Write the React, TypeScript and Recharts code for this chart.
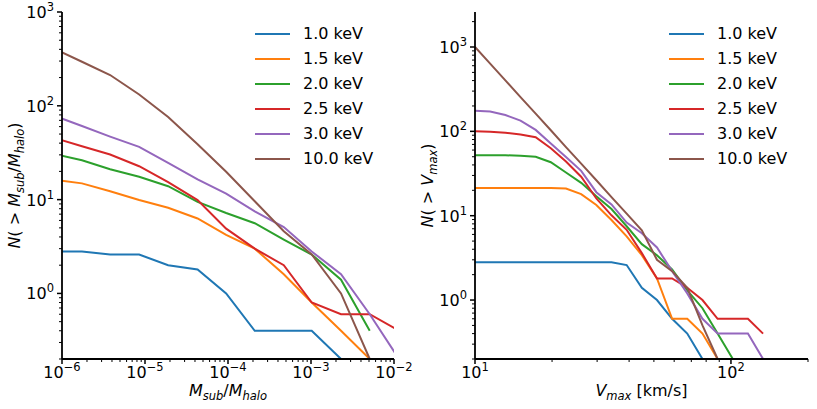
import { LineChart, Line, XAxis, YAxis, Legend } from "recharts";

const FONT = "DejaVu Sans, sans-serif";

// the six warm dark matter runs
const runs = ["1.0 keV", "1.5 keV", "2.0 keV", "2.5 keV", "3.0 keV", "10.0 keV"];
const colors = ["#1f77b4", "#ff7f0e", "#2ca02c", "#d62728", "#9467bd", "#8c564b"];
const keys = ["k10", "k15", "k20", "k25", "k30", "k100"];

// left panel: N(>Msub/Mhalo)
const massRatio = [7.8e-7, 1.74e-6, 3.8e-6, 8.5e-6, 1.9e-5, 4.3e-5, 9.5e-5, 2.1e-4, 4.7e-4, 1.02e-3, 2.3e-3, 5.1e-3, 1.15e-2];
const massN10 = [2.8, 2.8, 2.6, 2.6, 2.0, 1.8, 1.0, 0.4, 0.4, 0.4, 0.2, null, null];
const massN15 = [16.3, 14.9, 12.3, 9.9, 8.2, 6.3, 4.2, 3.0, 1.6, 0.8, 0.4, 0.2, null];
const massN20 = [30.8, 26.3, 21.1, 17.5, 13.9, 9.45, 7.2, 5.6, 3.75, 2.6, 1.4, 0.4, null];
const massN25 = [46, 37, 30.3, 22.7, 15.4, 9.9, 4.9, 3.0, 2.0, 0.8, 0.6, 0.6, 0.4];
const massN30 = [79, 61, 47, 36.5, 24.6, 16.4, 11.6, 7.5, 5.1, 2.8, 1.6, 0.6, 0.2];
const massN100 = [413, 295, 213, 132, 76, 39, 19.8, 9.6, 4.6, 2.6, 1.0, 0.2, null];

// right panel: N(>Vmax)
const vmax = [10.0, 11.46, 13.14, 15.06, 17.26, 19.78, 22.67, 25.99, 29.79, 34.14, 39.13, 44.85, 51.4, 58.9, 67.5, 77.4, 88.7, 101.7, 116.5, 133.5];
const velN10 = [2.8, 2.8, 2.8, 2.8, 2.8, 2.8, 2.8, 2.8, 2.8, 2.8, 2.6, 1.4, 1.0, 0.6, 0.4, 0.2, null, null, null, null];
const velN15 = [21.3, 21.3, 21.3, 21.3, 21.3, 21.3, 21, 18, 13.4, 8.9, 5.7, 3.4, 1.8, 0.6, 0.6, 0.4, 0.2, null, null, null];
const velN20 = [52, 52, 52, 51.5, 50, 43, 32.5, 24.5, 17, 12, 7.5, 4.6, 3.4, 2.3, 1.3, 0.8, 0.4, 0.2, null, null];
const velN25 = [100, 99, 96, 92, 85, 63, 44, 29, 16, 10.1, 6.8, 3.6, 1.8, 1.8, 1.4, 1.0, 0.6, 0.6, 0.6, 0.4];
const velN30 = [176, 172, 156, 134, 104, 72, 49.5, 34, 19, 13.6, 8.3, 6.2, 4.2, 2.2, 1.2, 0.6, 0.4, 0.4, 0.4, 0.2];
const velN100 = [1000, 634, 402, 255, 162, 103, 65, 41.4, 26.3, 16.6, 10.6, 6.7, 3.0, 2.2, 1.4, 0.5, 0.2, null, null, null];

// axis ranges and decade tick labels
const massDomain = [1e-6, 1e-2];
const massDecades = [1e-6, 1e-5, 1e-4, 1e-3, 1e-2];
const massNDomain = [0.2, 1000];
const massNDecades = [0.1, 1, 10, 100, 1000];
const velDomain = [10, 200];
const velDecades = [10, 100];
const velNDomain = [0.2, 2600];
const velNDecades = [0.1, 1, 10, 100, 1000];

const buildRows = (xs: number[], series: (number | null)[][]) =>
  xs.map((x, i) => {
    const row: any = { x };
    keys.forEach((k, j) => (row[k] = series[j][i]));
    return row;
  });

const massData = buildRows(massRatio, [massN10, massN15, massN20, massN25, massN30, massN100]);
const velData = buildRows(vmax, [velN10, velN15, velN20, velN25, velN30, velN100]);

// decades plus the 2..9 minor ticks in between, kept inside the domain
const withMinor = (decades: number[], domain: number[]) => {
  const out: number[] = [];
  decades.forEach((d) => {
    for (let m = 1; m < 10; m++) out.push(d * m);
  });
  return out.filter((v) => v >= domain[0] * 0.9999 && v <= domain[1] * 1.0001);
};

const isDecade = (v: number) => Math.abs(Math.log10(v) - Math.round(Math.log10(v))) < 1e-6;
const expOf = (v: number) => {
  const e = Math.round(Math.log10(v));
  return e < 0 ? "\u2212" + Math.abs(e) : String(e);
};

const MAJOR = 5;
const MINOR = 3;

const XTick = (props: any) => {
  const { x, y, payload } = props;
  const major = isDecade(payload.value);
  return (
    <g>
      <line x1={x} y1={y} x2={x} y2={y + (major ? MAJOR : MINOR)} stroke="#000" strokeWidth={major ? 1.5 : 1} />
      {major && (
        <text x={x} y={y + 19} textAnchor="middle" fontFamily={FONT} fontSize={16} fill="#000">
          10
          <tspan dy={-7} fontSize={11.5}>
            {expOf(payload.value)}
          </tspan>
        </text>
      )}
    </g>
  );
};

const YTick = (props: any) => {
  const { x, y, payload } = props;
  const major = isDecade(payload.value);
  return (
    <g>
      <line x1={x - (major ? MAJOR : MINOR)} y1={y} x2={x} y2={y} stroke="#000" strokeWidth={major ? 1.5 : 1} />
      {major && (
        <text x={x - MAJOR - 3} y={y + 6} textAnchor="end" fontFamily={FONT} fontSize={16} fill="#000">
          10
          <tspan dy={-7} fontSize={11.5}>
            {expOf(payload.value)}
          </tspan>
        </text>
      )}
    </g>
  );
};

const SUB = { fontStyle: "italic", fontSize: 11.5 } as const;

const MassTitle = ({ viewBox }: any) => (
  <text x={viewBox.x + viewBox.width / 2} y={viewBox.y + 37} textAnchor="middle" fontFamily={FONT} fontSize={16} fill="#000">
    <tspan fontStyle="italic">M</tspan>
    <tspan {...SUB} dy={4}>sub</tspan>
    <tspan dy={-4}>/</tspan>
    <tspan fontStyle="italic">M</tspan>
    <tspan {...SUB} dy={4}>halo</tspan>
  </text>
);

const VelTitle = ({ viewBox }: any) => (
  <text x={viewBox.x + viewBox.width / 2} y={viewBox.y + 37} textAnchor="middle" fontFamily={FONT} fontSize={16} fill="#000">
    <tspan fontStyle="italic">V</tspan>
    <tspan {...SUB} dy={4}>max</tspan>
    <tspan dy={-4}> [km/s]</tspan>
  </text>
);

const MassNTitle = ({ viewBox }: any) => (
  <text
    transform={`translate(${viewBox.x + 20},${viewBox.y + viewBox.height / 2}) rotate(-90)`}
    textAnchor="middle"
    fontFamily={FONT}
    fontSize={16}
    fill="#000"
  >
    <tspan fontStyle="italic">N</tspan>
    <tspan>{"( > "}</tspan>
    <tspan fontStyle="italic">M</tspan>
    <tspan {...SUB} dy={4}>sub</tspan>
    <tspan dy={-4}>/</tspan>
    <tspan fontStyle="italic">M</tspan>
    <tspan {...SUB} dy={4}>halo</tspan>
    <tspan dy={-4}>)</tspan>
  </text>
);

const VelNTitle = ({ viewBox }: any) => (
  <text
    transform={`translate(${viewBox.x + 23},${viewBox.y + viewBox.height / 2}) rotate(-90)`}
    textAnchor="middle"
    fontFamily={FONT}
    fontSize={16}
    fill="#000"
  >
    <tspan fontStyle="italic">N</tspan>
    <tspan>{"( > "}</tspan>
    <tspan fontStyle="italic">V</tspan>
    <tspan {...SUB} dy={4}>max</tspan>
    <tspan dy={-4}>)</tspan>
  </text>
);

const renderKey = () => (
  <div style={{ fontFamily: FONT, fontSize: 16, color: "#000" }}>
    {runs.map((r, i) => (
      <div key={r} style={{ display: "flex", alignItems: "center", height: 25 }}>
        <span style={{ display: "inline-block", width: 35, height: 2, background: colors[i], marginRight: 13 }} />
        <span style={{ lineHeight: "25px", whiteSpace: "nowrap" }}>{r}</span>
      </div>
    ))}
  </div>
);

const frame = { stroke: "#000", strokeWidth: 1.8 };

const Panel = (p: {
  data: any[];
  width: number;
  margin: any;
  yWidth: number;
  xDomain: number[];
  xTicks: number[];
  yDomain: number[];
  yTicks: number[];
  xTitle: any;
  yTitle: any;
  keyLeft: number;
}) => (
  <LineChart width={p.width} height={409} data={p.data} margin={p.margin}>
    <XAxis
      dataKey="x"
      type="number"
      scale="log"
      domain={p.xDomain}
      allowDataOverflow
      ticks={p.xTicks}
      interval={0}
      tickSize={0}
      tickMargin={0}
      tickLine={false}
      tick={XTick}
      axisLine={frame}
      height={50}
      label={{ content: p.xTitle }}
    />
    <XAxis xAxisId="top" orientation="top" type="number" scale="log" domain={p.xDomain} allowDataOverflow height={0} tick={false} tickLine={false} axisLine={frame} />
    <YAxis
      type="number"
      scale="log"
      domain={p.yDomain}
      allowDataOverflow
      ticks={p.yTicks}
      interval={0}
      tickSize={0}
      tickMargin={0}
      tickLine={false}
      tick={YTick}
      axisLine={frame}
      width={p.yWidth}
      label={{ content: p.yTitle }}
    />
    <YAxis yAxisId="right" orientation="right" type="number" scale="log" domain={p.yDomain} allowDataOverflow width={0} tick={false} tickLine={false} axisLine={frame} />
    <Legend
      content={renderKey}
      layout="vertical"
      align="center"
      verticalAlign="middle"
      wrapperStyle={{ left: p.keyLeft, top: 21, width: "auto", height: "auto" }}
    />
    {keys.map((k, i) => (
      <Line key={k} dataKey={k} name={runs[i]} type="linear" stroke={colors[i]} strokeWidth={2} dot={false} isAnimationActive={false} />
    ))}
  </LineChart>
);

export default function App() {
  return (
    <div style={{ position: "absolute", left: 0, top: 0, width: 817, height: 409, background: "#fff" }}>
      <div style={{ position: "absolute", left: 0, top: 0 }}>
        <Panel
          data={massData}
          width={426}
          margin={{ top: 12, right: 32, bottom: 0, left: 0 }}
          yWidth={62}
          xDomain={massDomain}
          xTicks={withMinor(massDecades, massDomain)}
          yDomain={massNDomain}
          yTicks={withMinor(massNDecades, massNDomain)}
          xTitle={MassTitle}
          yTitle={MassNTitle}
          keyLeft={255}
        />
      </div>
      <div style={{ position: "absolute", left: 410, top: 0 }}>
        <Panel
          data={velData}
          width={407}
          margin={{ top: 12, right: 9, bottom: 0, left: 0 }}
          yWidth={65}
          xDomain={velDomain}
          xTicks={withMinor(velDecades, velDomain)}
          yDomain={velNDomain}
          yTicks={withMinor(velNDecades, velNDomain)}
          xTitle={VelTitle}
          yTitle={VelNTitle}
          keyLeft={259}
        />
      </div>
    </div>
  );
}
